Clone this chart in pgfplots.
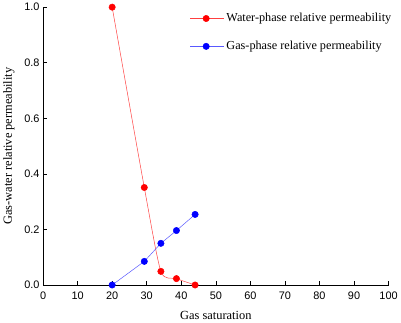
\documentclass[border=0pt]{standalone}
\usepackage{fontspec}
\setmainfont{Liberation Serif}
\newfontfamily\ticksans{Liberation Sans}
\usepackage{pgfplots}
\pgfplotsset{compat=1.18}

\begin{document}
\begin{tikzpicture}
    \begin{axis}[
        scale only axis,
        width=347bp, height=279bp,
        xmin=0, xmax=100, ymin=0, ymax=1,
        axis x line=bottom, axis y line=left,
        axis line style={-, line width=0.8pt},
        tick align=inside,
        major tick length=4bp,
        tick style={black, line width=0.6pt},
        xtick={0,10,...,100},
        ytick={0,0.2,...,1.0},
        xticklabel={\ticksans\pgfmathprintnumber[assume math mode=true]{\tick}},
        yticklabel={\ticksans\pgfmathprintnumber[fixed,fixed zerofill,precision=1,assume math mode=true]{\tick}},
        ticklabel style={font=\fontsize{11}{13}\selectfont},
        xticklabel style={yshift=-3bp},
        xlabel={Gas saturation},
        ylabel={Gas-water relative permeability},
        label style={font=\fontsize{12.5}{14}\selectfont},
        xlabel style={yshift=-5bp},
        ylabel style={yshift=3bp},
        legend style={draw=none, fill=none, at={(0.425,0.985)}, anchor=north west,
            font=\fontsize{12.3}{14}\selectfont, row sep=14bp, inner sep=0pt},
        legend cell align=left,
        legend image code/.code={
            \draw[#1] (0cm,0cm) -- (1.2cm,0cm);
            \draw[#1, only marks] plot coordinates {(0.56cm,0cm)};
        },
        clip=true,
        ]
        \addplot[red!75!white, line width=0.5pt, smooth, tension=0.4,
            mark=*, mark size=3.2bp, mark options={fill=red, draw=red}]
            coordinates {(20,1.0) (29.3,0.351) (34.1,0.049) (38.6,0.023) (44.0,0.0)};
        \addlegendentry{Water-phase relative permeability}
        \addplot[blue!65!white, line width=0.5pt,
            mark=*, mark size=3.2bp, mark options={fill=blue, draw=blue}]
            coordinates {(20,0.0) (29.3,0.085) (34.1,0.150) (38.6,0.196) (44.0,0.254)};
        \addlegendentry{Gas-phase relative permeability}
    \end{axis}
\end{tikzpicture}
\end{document}
